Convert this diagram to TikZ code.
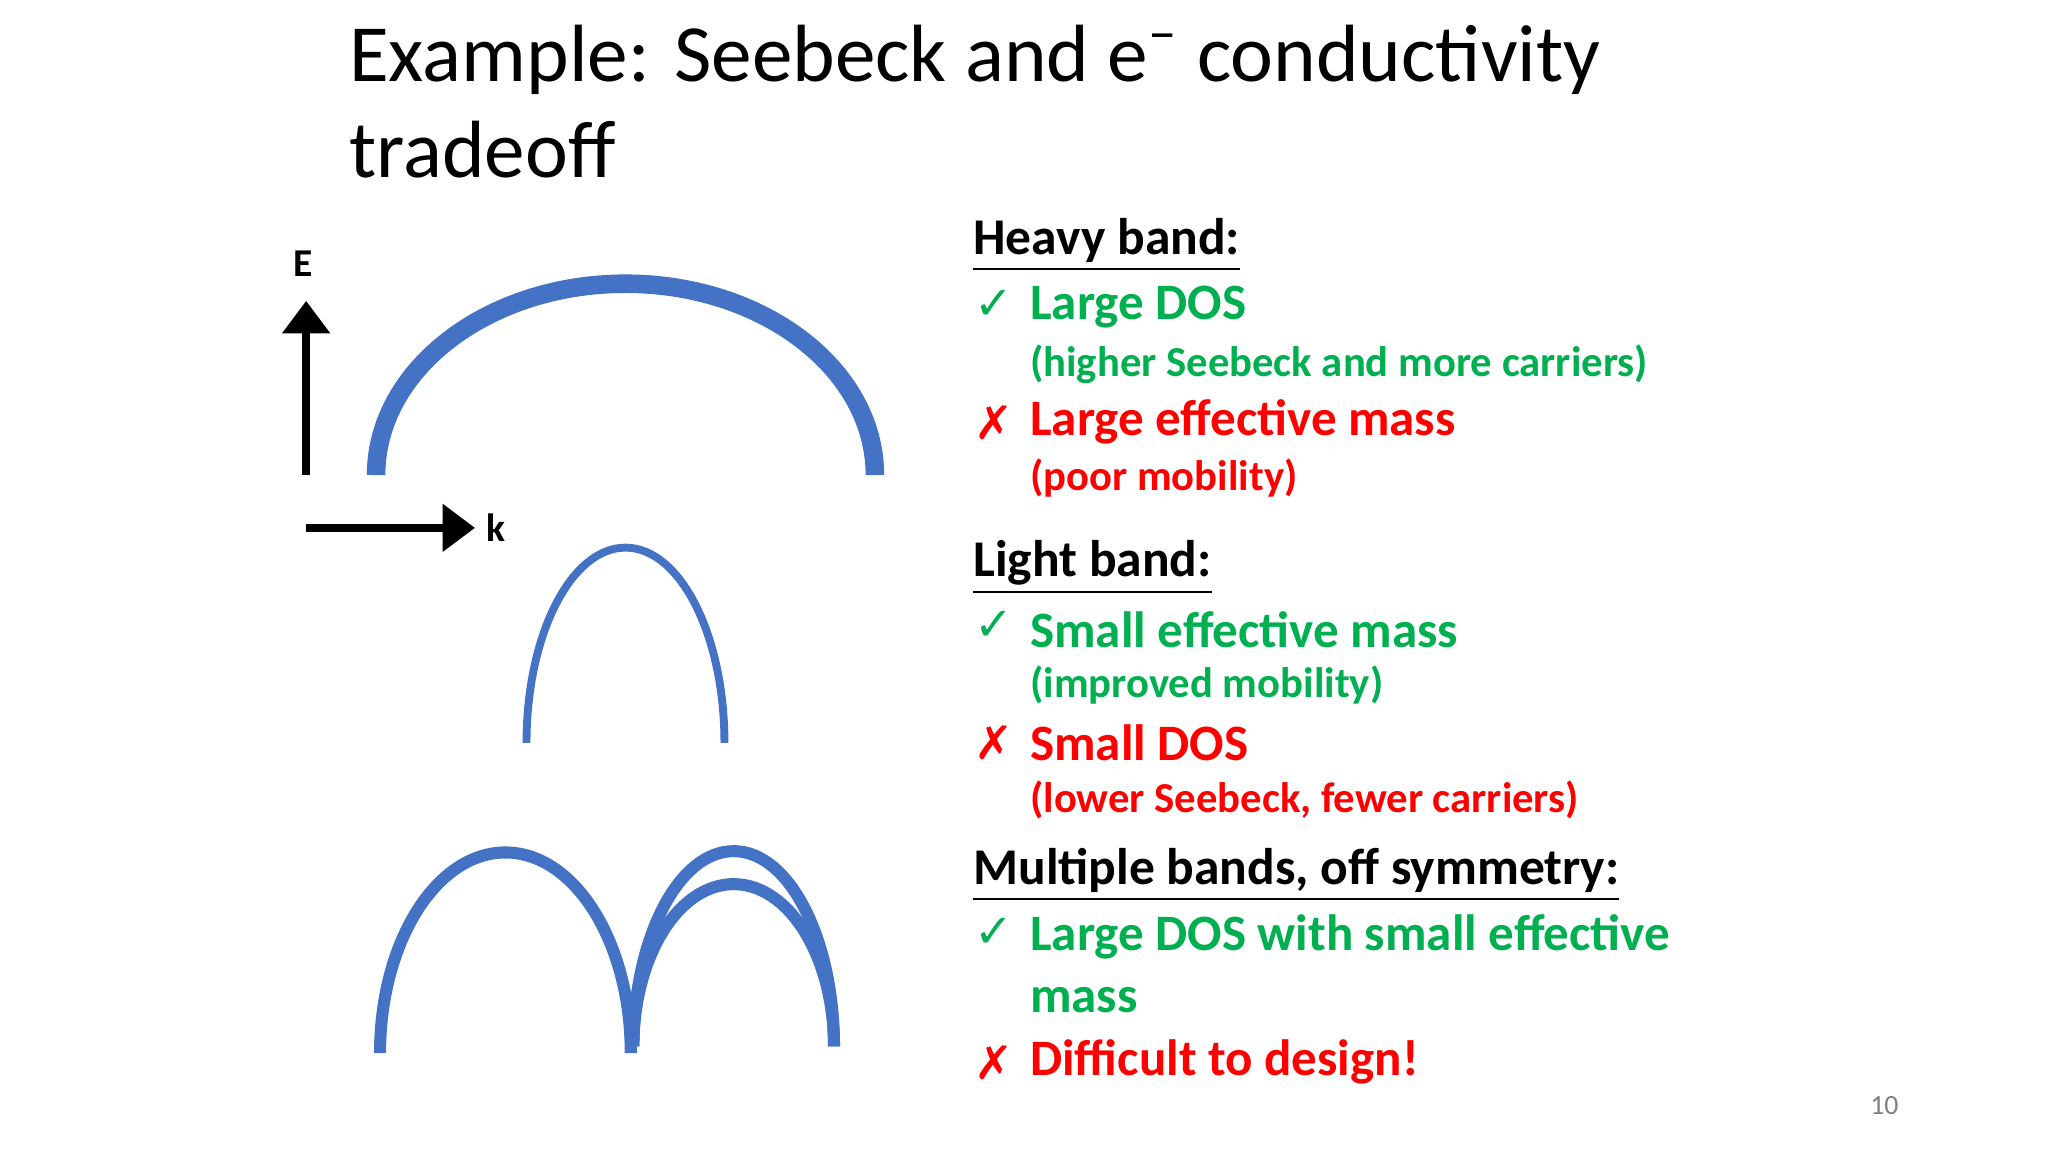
\documentclass[tikz,border=0pt]{standalone}
\usetikzlibrary{arrows.meta}
\usepackage{fontspec}
\setmainfont{Carlito}
\newfontfamily\symf{DejaVu Sans}
\definecolor{bandblue}{RGB}{68,114,196}
\definecolor{okgreen}{RGB}{0,176,80}
\definecolor{badred}{RGB}{255,0,0}
\begin{document}
\begin{tikzpicture}[x=0.01cm,y=-0.01cm,
  band/.style={draw=bandblue,line width=1.7pt},
  hd/.style={anchor=west,font=\bfseries\fontsize{11.1}{13}\selectfont,inner sep=0},
  big/.style={anchor=west,font=\bfseries\fontsize{11}{13}\selectfont,inner sep=0},
  sm/.style={anchor=west,font=\bfseries\fontsize{9.2}{11}\selectfont,inner sep=0},
  mk/.style={anchor=center,font=\symf\fontsize{10}{12}\selectfont,inner sep=0}]
\useasboundingbox (0,0) rectangle (1552,873);
\node[anchor=west,font=\fontsize{17.5}{20}\selectfont,inner sep=0] (t1) at (264,45) {Example: Seebeck and e\textsuperscript{\textendash} conductivity};
\node[anchor=west,font=\fontsize{17.5}{20}\selectfont,inner sep=0] (t2) at (264,113) {tradeoff};
% axes
\coordinate (o1) at (232,360); \coordinate (e1) at (232,228);
\coordinate (o2) at (232,400); \coordinate (k1) at (360,400);
\draw[line width=1.6pt,-{Triangle[length=7pt,width=10pt]}] (o1) -- (e1);
\draw[line width=1.6pt,-{Triangle[length=7pt,width=10pt]}] (o2) -- (k1);
\node[font=\bfseries\fontsize{8.5}{10}\selectfont] (E) at (230,200) {E};
\node[font=\bfseries\fontsize{8.5}{10}\selectfont] (k) at (376,400) {k};
% bands
\draw[draw=bandblue,line width=4pt] (285,360) arc[start angle=180,end angle=360,x radius=189,y radius=145];
\draw[band] (399,563) arc[start angle=180,end angle=360,x radius=75,y radius=148];
\draw[band,line width=2.6pt] (288,798) arc[start angle=180,end angle=360,x radius=95,y radius=152];
\draw[band,line width=2.6pt] (480,793) arc[start angle=180,end angle=360,x radius=76,y radius=148];
\draw[band,line width=2.6pt] (480,793) arc[start angle=180,end angle=360,x radius=76,y radius=123];
% text
\node[hd] (h1) at (737,186) {\underline{Heavy band:}};
\node[mk,okgreen] (c1) at (753,231) {✓};
\node[big,okgreen] (a1) at (780,233) {Large DOS};
\node[sm,okgreen] (a2) at (780,276) {(higher Seebeck and more carriers)};
\node[mk,badred] (x1) at (753,320) {✗};
\node[big,badred] (a3) at (780,320) {Large effective mass};
\node[sm,badred] (a4) at (780,362) {(poor mobility)};
\node[hd] (h2) at (737,430) {\underline{Light band:}};
\node[mk,okgreen] (c2) at (753,474) {✓};
\node[big,okgreen] (b1) at (780,477) {Small effective mass};
\node[sm,okgreen] (b2) at (780,519) {(improved mobility)};
\node[mk,badred] (x2) at (753,563) {✗};
\node[big,badred] (b3) at (780,563) {Small DOS};
\node[sm,badred] (b4) at (780,606) {(lower Seebeck, fewer carriers)};
\node[hd] (h3) at (737,663) {\underline{Multiple bands, off symmetry:}};
\node[mk,okgreen] (c3) at (753,707) {✓};
\node[big,okgreen] (d1) at (780,710) {Large DOS with small effective};
\node[big,okgreen] (d2) at (780,758) {mass};
\node[mk,badred] (x3) at (753,805) {✗};
\node[big,badred] (d3) at (780,805) {Difficult to design!};
\node[font=\fontsize{6}{7}\selectfont,text=gray] (pg) at (1428,838) {10};
\end{tikzpicture}
\end{document}
